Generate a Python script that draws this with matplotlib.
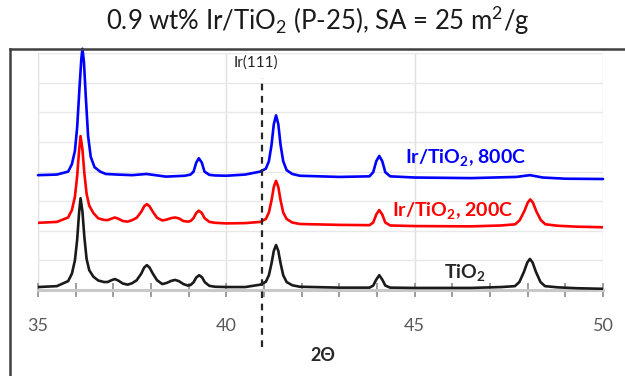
import matplotlib
matplotlib.use("Agg")
import matplotlib.pyplot as plt
from matplotlib.lines import Line2D

plt.rcParams['font.family'] = ['Lato', 'DejaVu Sans']
plt.rcParams['mathtext.fontset'] = 'custom'
plt.rcParams['mathtext.rm'] = 'Lato'
plt.rcParams['mathtext.bf'] = 'Lato:bold'
plt.rcParams['mathtext.default'] = 'regular'

# ---- data (2-theta, stacked intensity) ----
tio2_x = [35.0, 35.5, 35.8, 35.9, 35.98, 36.04, 36.09, 36.13, 36.18, 36.23, 36.29, 36.36, 36.47,
          36.6, 36.75, 36.85, 36.95, 37.04, 37.13, 37.25, 37.38,
          37.5, 37.62, 37.74, 37.82, 37.89, 37.96, 38.05, 38.16, 38.3, 38.42, 38.54, 38.64, 38.74,
          38.86, 38.98, 39.05, 39.13, 39.2, 39.28, 39.36, 39.43, 39.55, 39.7, 40.0, 40.5,
          40.9, 41.05, 41.13, 41.2, 41.26, 41.32, 41.38, 41.44, 41.51, 41.6, 41.75, 41.95,
          43.0, 43.8, 43.9, 43.98, 44.06, 44.14, 44.22, 44.35, 45.0, 46.5, 47.3,
          47.66, 47.78, 47.9, 47.99, 48.06, 48.13, 48.22, 48.34, 48.46, 48.8, 49.3, 50.0]
tio2_y = [0.10, 0.13, 0.30, 0.55, 1.00, 1.70, 2.60, 3.10, 2.65, 1.80, 1.05, 0.67, 0.45,
          0.32, 0.27, 0.27, 0.33, 0.37, 0.32, 0.22, 0.18,
          0.23, 0.33, 0.55, 0.76, 0.84, 0.76, 0.55, 0.33, 0.20, 0.24, 0.31, 0.34, 0.30,
          0.20, 0.15, 0.17, 0.26, 0.42, 0.50, 0.42, 0.26, 0.14, 0.11, 0.10, 0.10,
          0.18, 0.28, 0.50, 0.90, 1.32, 1.52, 1.32, 0.90, 0.50, 0.27, 0.16, 0.11,
          0.08, 0.08, 0.15, 0.35, 0.50, 0.35, 0.15, 0.08, 0.07, 0.07, 0.10,
          0.13, 0.27, 0.61, 0.93, 1.05, 0.93, 0.61, 0.27, 0.13, 0.09, 0.06, 0.04]

ir200_x = [35.0, 35.5, 35.8, 35.9, 35.98, 36.04, 36.09, 36.13, 36.18, 36.23, 36.29, 36.36, 36.47,
           36.6, 36.75, 36.85, 36.95, 37.04, 37.13, 37.25, 37.38,
           37.5, 37.62, 37.74, 37.82, 37.89, 37.96, 38.05, 38.16, 38.3, 38.42, 38.54, 38.64, 38.74,
           38.86, 38.98, 39.05, 39.13, 39.2, 39.27, 39.35, 39.42, 39.55, 39.7, 40.0, 40.5,
           40.9, 41.05, 41.13, 41.2, 41.26, 41.32, 41.38, 41.44, 41.51, 41.6, 41.75, 41.95,
           43.0, 43.8, 43.9, 43.98, 44.06, 44.14, 44.22, 44.35, 45.0, 46.5, 47.3,
           47.67, 47.79, 47.91, 48.0, 48.07, 48.14, 48.23, 48.35, 48.47, 48.8, 49.3, 50.0]
ir200_y = [2.27, 2.30, 2.45, 2.70, 3.15, 3.85, 4.70, 5.20, 4.75, 3.95, 3.25, 2.85, 2.60,
           2.42, 2.37, 2.36, 2.41, 2.45, 2.41, 2.33, 2.31,
           2.36, 2.44, 2.64, 2.83, 2.90, 2.83, 2.64, 2.44, 2.35, 2.38, 2.43, 2.45, 2.42,
           2.33, 2.31, 2.33, 2.43, 2.60, 2.68, 2.60, 2.43, 2.30, 2.27, 2.25, 2.26,
           2.30, 2.40, 2.62, 3.03, 3.48, 3.69, 3.48, 3.03, 2.62, 2.40, 2.28, 2.23,
           2.20, 2.19, 2.28, 2.55, 2.70, 2.55, 2.28, 2.18, 2.16, 2.15, 2.18,
           2.22, 2.36, 2.66, 2.95, 3.06, 2.95, 2.66, 2.36, 2.22, 2.17, 2.14, 2.12]

ir800_x = [35.0, 35.5, 35.8, 35.9, 35.98, 36.04, 36.1, 36.15, 36.18, 36.22, 36.27, 36.33, 36.4,
           36.5, 36.65, 36.8, 37.1, 37.5, 37.88, 38.4, 38.9, 39.05, 39.13, 39.2, 39.27, 39.35,
           39.42, 39.55, 39.7, 40.0, 40.5, 40.9, 41.05, 41.13, 41.2, 41.26, 41.32, 41.38, 41.44,
           41.51, 41.6, 41.75, 41.95, 43.0, 43.8, 43.9, 43.98, 44.06, 44.14, 44.22, 44.35, 45.0,
           46.5, 47.7, 48.06, 48.4, 49.0, 50.0]
ir800_y = [3.88, 3.90, 4.00, 4.25, 4.70, 5.50, 6.80, 7.80, 8.15, 7.70, 6.50, 5.20, 4.50,
           4.15, 4.00, 3.92, 3.90, 3.88, 3.92, 3.83, 3.86, 3.90, 4.00, 4.30, 4.45, 4.30,
           4.00, 3.89, 3.87, 3.86, 3.90, 4.00, 4.10, 4.35, 4.90, 5.60, 5.90, 5.60, 4.90,
           4.35, 4.05, 3.92, 3.86, 3.82, 3.84, 3.98, 4.35, 4.53, 4.35, 3.98, 3.84, 3.80,
           3.78, 3.82, 3.88, 3.80, 3.76, 3.75]

ir111_pos = 40.95
x_major = [35, 40, 45, 50]
x_minor = list(range(35, 51))
title = r"0.9 wt% Ir/TiO$_2$ (P-25), SA = 25 m$^2$/g"

W, H = 625, 376
fig = plt.figure(figsize=(W / 100, H / 100), dpi=100)
ax = fig.add_axes([38 / W, 86 / H, 565 / W, 236.8 / H])

kw = dict(lw=1.9, zorder=3, solid_joinstyle='round', solid_capstyle='round')
ax.plot(tio2_x, tio2_y, color='#1a1a1a', **kw)
ax.plot(ir200_x, ir200_y, color='#ff0000', **kw)
ax.plot(ir800_x, ir800_y, color='#0000ff', clip_on=False, **kw)

ax.set_xlim(35, 50)
ax.set_ylim(0, 8)
ax.set_xticks(x_major)
ax.set_xticks(x_minor, minor=True)
ax.set_yticks(range(0, 9))
ax.set_yticklabels([])
ax.tick_params(axis='y', length=0)
ax.tick_params(axis='x', which='both', direction='inout', length=10, width=1.2, color='#8c8c8c',
               labelsize=13, labelcolor='#595959', pad=15)
ax.grid(True, axis='y', color='#e8e8e8', lw=1)
ax.grid(True, axis='x', which='major', color='#e0e0e0', lw=1)
for s in ['top', 'right', 'left']:
    ax.spines[s].set_visible(False)
ax.spines['bottom'].set_color('#c8c8c8')
ax.spines['bottom'].set_linewidth(2.2)

ax.plot([ir111_pos, ir111_pos], [-1.93, 7.15], color='#262626', lw=1.6, ls=(0, (3, 2.5)),
        clip_on=False, zorder=4)
ax.text(40.79, 7.68, 'Ir(111)', fontsize=11, color='#262626', ha='center', va='center')

ax.text(46.36, 4.49, r'Ir/TiO$_2$, 800C', color='#0000ff', fontsize=14, fontweight='bold',
        ha='center', va='center')
ax.text(46.0, 2.7, r'Ir/TiO$_2$, 200C', color='#ff0000', fontsize=14, fontweight='bold',
        ha='center', va='center')
ax.text(46.33, 0.6, r'TiO$_2$', color='#262626', fontsize=14, fontweight='bold',
        ha='center', va='center')

ax.text(42.55, -2.2, '2Θ', fontsize=13, fontweight='bold', color='#262626',
        ha='center', va='center')

fig.text(318 / W, 1 - 21 / H, title, fontsize=18.5, color='#1a1a1a', ha='center', va='center')

# chart frame
fig.add_artist(Line2D([10 / W, 10 / W], [0, 1 - 49 / H], color='#404040', lw=1.8))
fig.add_artist(Line2D([10 / W, 1], [1 - 49 / H, 1 - 49 / H], color='#404040', lw=1.8))

fig.savefig('out.png', dpi=100)
